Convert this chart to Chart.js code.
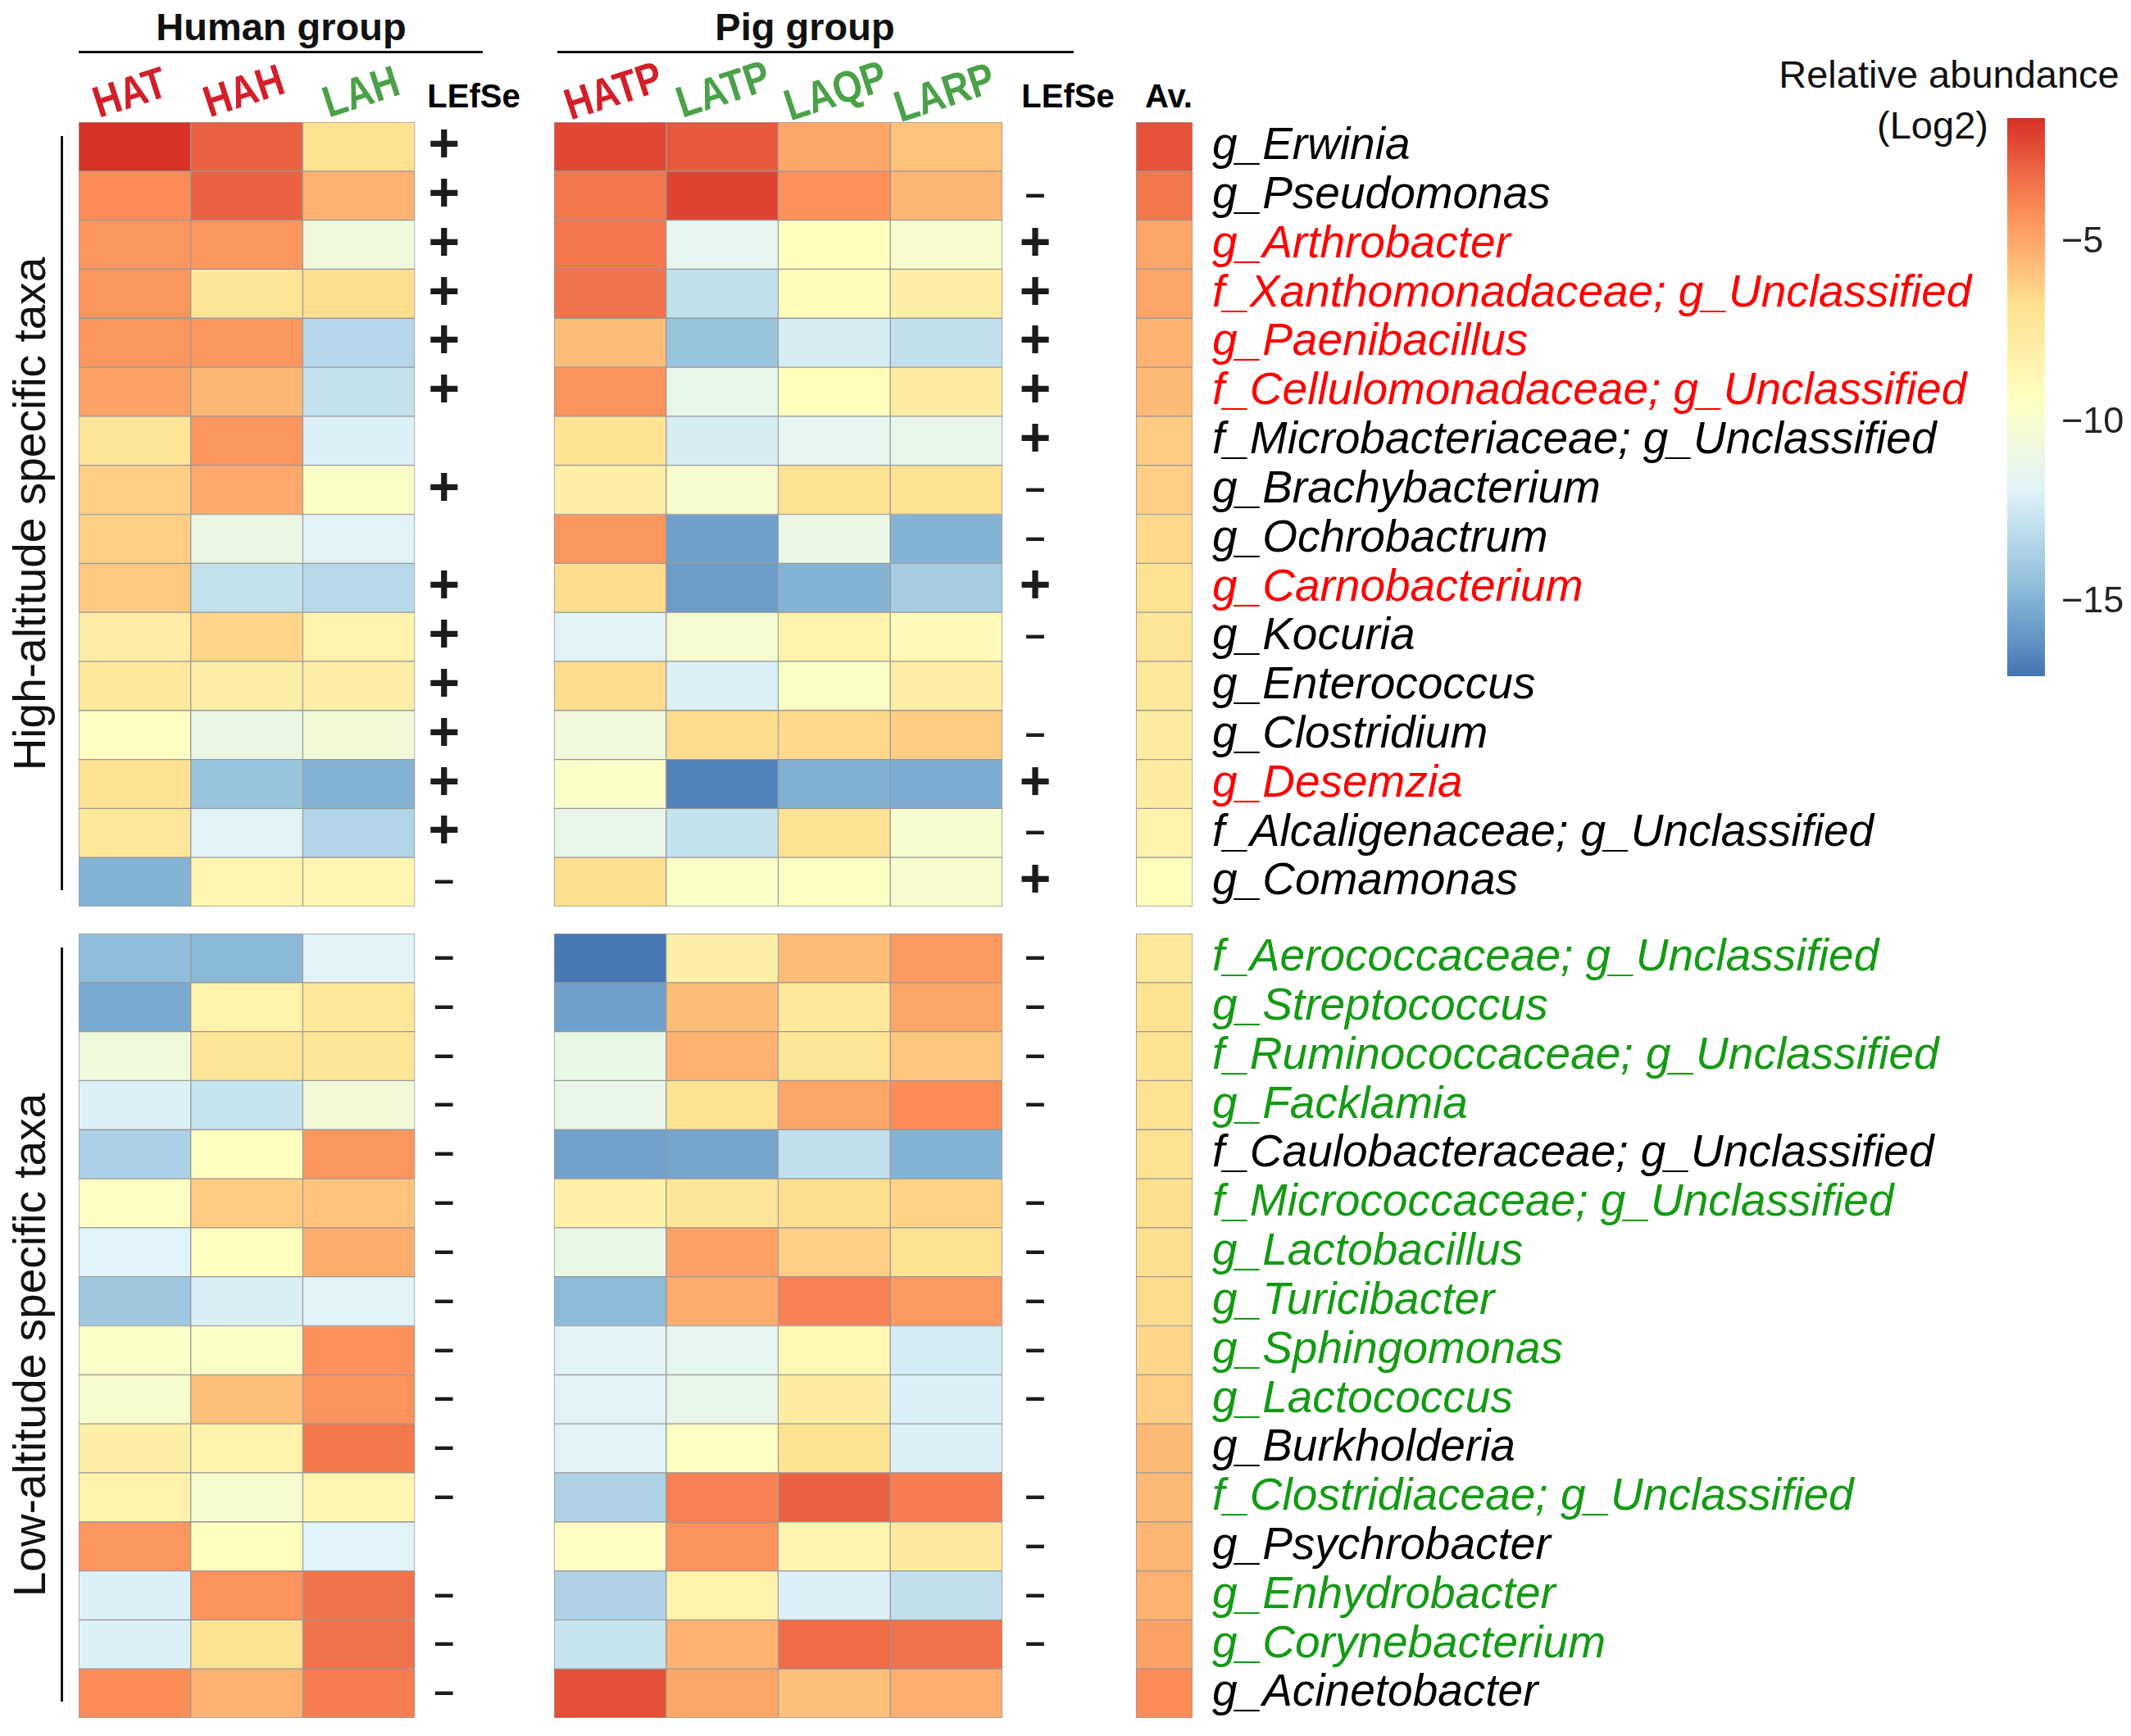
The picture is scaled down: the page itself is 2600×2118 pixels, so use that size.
<!DOCTYPE html>
<html>
<head>
<meta charset="utf-8">
<script src="https://cdn.jsdelivr.net/npm/chart.js@4.4.1/dist/chart.umd.min.js"></script>
<style>
  html, body { margin: 0; padding: 0; background: #fff; overflow: hidden; }
  #page { position: relative; width: 2600px; height: 2118px; font-family: "Liberation Sans", Arial, sans-serif; color: #111; }
  .abs { position: absolute; white-space: nowrap; line-height: 1; }
  .c { transform: translate(-50%, -50%); }
  .grp { font-size: 47px; font-weight: bold; }
  .col { font-size: 54px; font-weight: bold; transform: translate(-50%, -50%) rotate(-18deg) scaleX(0.85); }
  .hi { color: #d21f29; }
  .lo { color: #4ba149; }
  .lef { font-size: 40px; font-weight: bold; color: #000; }
  .side { font-size: 55px; transform: translate(-50%, -50%) rotate(-90deg); }
  .rule { position: absolute; background: #111; }
  canvas { position: absolute; }
</style>
</head>
<body>
<div id="page">
  <div class="abs c grp" style="left:343px;top:32px">Human group</div>
  <div class="abs c grp" style="left:982px;top:32px">Pig group</div>
  <div class="rule" style="left:96px;top:62px;width:493px;height:3px"></div>
  <div class="rule" style="left:680px;top:62px;width:630px;height:3px"></div>

  <div class="abs col hi" style="left:158px;top:112px">HAT</div>
  <div class="abs col hi" style="left:297px;top:110px">HAH</div>
  <div class="abs col lo" style="left:440px;top:111px">LAH</div>
  <div class="abs c lef" style="left:578px;top:117px">LEfSe</div>
  <div class="abs col hi" style="left:748px;top:110px">HATP</div>
  <div class="abs col lo" style="left:882px;top:108px">LATP</div>
  <div class="abs col lo" style="left:1019px;top:110px">LAQP</div>
  <div class="abs col lo" style="left:1152px;top:112px">LARP</div>
  <div class="abs c lef" style="left:1303px;top:117px">LEfSe</div>
  <div class="abs c lef" style="left:1426px;top:117px">Av.</div>

  <div class="abs side" style="left:36px;top:627px">High-altitude specific taxa</div>
  <div class="abs side" style="left:36px;top:1641px">Low-altitude specific taxa</div>
  <div class="rule" style="left:74px;top:166px;width:3px;height:920px"></div>
  <div class="rule" style="left:74px;top:1156px;width:3px;height:920px"></div>

  <div class="abs c" style="left:2378px;top:90px;font-size:47px">Relative abundance</div>
  <div class="abs c" style="left:2358px;top:152px;font-size:47px">(Log2)</div>

  <canvas id="highChart" width="2415" height="1077" style="left:90px;top:89px"></canvas>
  <canvas id="lowChart" width="2415" height="1077" style="left:90px;top:1079px"></canvas>
  <canvas id="scaleChart" width="151" height="801" style="left:2449px;top:84px"></canvas>
</div>
<script>
// taxa, top block (high altitude) and bottom block (low altitude)
const highTaxa = [
  "g_Erwinia", "g_Pseudomonas", "g_Arthrobacter", "f_Xanthomonadaceae; g_Unclassified",
  "g_Paenibacillus", "f_Cellulomonadaceae; g_Unclassified", "f_Microbacteriaceae; g_Unclassified",
  "g_Brachybacterium", "g_Ochrobactrum", "g_Carnobacterium", "g_Kocuria", "g_Enterococcus",
  "g_Clostridium", "g_Desemzia", "f_Alcaligenaceae; g_Unclassified", "g_Comamonas"
];
const lowTaxa = [
  "f_Aerococcaceae; g_Unclassified", "g_Streptococcus", "f_Ruminococcaceae; g_Unclassified",
  "g_Facklamia", "f_Caulobacteraceae; g_Unclassified", "f_Micrococcaceae; g_Unclassified",
  "g_Lactobacillus", "g_Turicibacter", "g_Sphingomonas", "g_Lactococcus", "g_Burkholderia",
  "f_Clostridiaceae; g_Unclassified", "g_Psychrobacter", "g_Enhydrobacter", "g_Corynebacterium",
  "g_Acinetobacter"
];
// label colour: k black, r enriched high, g enriched low
const highMark = ["k", "k", "r", "r", "r", "r", "k", "k", "k", "r", "k", "k", "k", "r", "k", "k"];
const lowMark = ["g", "g", "g", "g", "k", "g", "g", "g", "g", "g", "k", "g", "k", "g", "g", "k"];

// log2 relative abundance, high block
const highHAT = [-1.6, -4.1, -4.4, -4.4, -4.4, -4.8, -7.1, -6.2, -6.2, -6.0, -7.8, -7.4, -9.5, -6.8, -7.3, -14.9];
const highHAH = [-2.9, -2.9, -4.4, -7.1, -4.4, -5.4, -4.4, -5.0, -11.0, -12.8, -6.4, -8.0, -11.0, -14.2, -11.8, -8.5];
const highLAH = [-6.9, -5.3, -10.6, -6.7, -13.3, -12.8, -12.0, -9.6, -11.8, -13.2, -8.3, -8.0, -10.5, -14.9, -13.4, -8.5];
const highHATP = [-2.2, -3.5, -3.5, -3.4, -5.6, -4.3, -7.0, -8.0, -4.4, -6.6, -11.8, -6.6, -10.6, -9.7, -11.2, -6.7];
const highLATP = [-2.7, -2.1, -11.4, -12.9, -14.2, -11.2, -12.2, -10.0, -15.6, -15.7, -10.1, -12.0, -6.6, -16.6, -12.8, -9.7];
const highLAQP = [-4.9, -4.2, -9.2, -9.0, -12.2, -9.1, -11.4, -7.0, -11.0, -14.9, -8.2, -9.6, -6.5, -15.0, -6.8, -9.5];
const highLARP = [-5.8, -5.4, -9.9, -8.0, -12.9, -7.7, -11.2, -6.9, -14.9, -13.8, -8.9, -8.0, -6.1, -15.1, -10.0, -9.9];
const highAv = [-2.5, -3.5, -4.9, -4.9, -5.3, -5.5, -6.1, -6.2, -6.5, -6.8, -7.1, -7.4, -7.7, -7.7, -8.2, -9.1];

// log2 relative abundance, low block
const lowHAT = [-14.5, -15.2, -10.6, -12.0, -13.6, -9.5, -11.9, -14.0, -9.6, -10.0, -8.0, -8.2, -4.4, -12.0, -12.0, -4.1];
const lowHAH = [-14.7, -8.2, -7.1, -12.7, -9.3, -6.1, -9.3, -12.1, -9.6, -5.7, -8.2, -10.0, -9.3, -4.3, -6.9, -5.3];
const lowLAH = [-11.8, -7.3, -7.1, -10.5, -4.4, -5.8, -5.1, -11.8, -4.2, -4.3, -3.5, -8.5, -11.9, -3.4, -3.4, -3.7];
const lowHATP = [-16.9, -15.6, -11.1, -11.2, -15.5, -8.1, -11.1, -14.6, -11.8, -11.8, -11.8, -13.5, -9.5, -13.5, -12.7, -2.4];
const lowLATP = [-8.0, -5.6, -5.3, -6.8, -15.4, -7.1, -4.8, -5.1, -11.4, -11.2, -9.5, -3.8, -4.3, -8.2, -5.3, -4.9];
const lowLAQP = [-5.6, -7.4, -7.1, -4.9, -12.9, -6.7, -6.2, -3.8, -8.7, -7.7, -7.0, -2.9, -8.4, -12.0, -3.2, -5.7];
const lowLARP = [-4.5, -4.9, -5.9, -4.1, -14.9, -6.3, -6.8, -4.5, -12.3, -12.0, -12.0, -3.7, -7.5, -12.9, -3.4, -5.2];
const lowAv = [-7.4, -7.0, -7.0, -6.8, -6.8, -6.7, -6.7, -6.6, -6.4, -6.2, -5.5, -5.5, -5.4, -5.3, -4.8, -4.1];

// LEfSe marks
const highLefseHuman = ["+", "+", "+", "+", "+", "+", "", "+", "", "+", "+", "+", "+", "+", "+", "-"];
const highLefsePig = ["", "-", "+", "+", "+", "+", "+", "-", "-", "+", "-", "", "-", "+", "-", "+"];
const lowLefseHuman = ["-", "-", "-", "-", "-", "-", "-", "-", "-", "-", "-", "-", "", "-", "-", "-"];
const lowLefsePig = ["-", "-", "-", "-", "", "-", "-", "-", "-", "-", "", "-", "-", "-", "-", ""];

// colour key
const scaleMin = -17.05;
const scaleMax = -1.55;
const scaleTicks = [-5, -10, -15];
const palette = ["#4575B4", "#91BFDB", "#E0F3F8", "#FFFFBF", "#FEE090", "#FC8D59", "#D73027"];

const FONT = "'Liberation Sans', Arial, sans-serif";
const labelColors = { k: "#000000", r: "#ff0000", g: "#149a14" };

const hex = (h) => [1, 3, 5].map((i) => parseInt(h.slice(i, i + 2), 16));
const paletteRgb = palette.map(hex);
const colorFor = (v) => {
  let t = (v - scaleMin) / (scaleMax - scaleMin);
  t = Math.min(1, Math.max(0, t)) * (paletteRgb.length - 1);
  const i = Math.min(paletteRgb.length - 2, Math.floor(t));
  const f = t - i;
  const a = paletteRgb[i], b = paletteRgb[i + 1];
  const c = a.map((x, k) => Math.round(x + (b[k] - x) * f));
  return `rgb(${c[0]},${c[1]},${c[2]})`;
};

// column layout in cell units (one heatmap cell = 1)
const PIG0 = 4.243;
const AV0 = 9.437;
const XMAX = 9.941;
const colSpans = [[0, 1], [1, 2], [2, 3], [PIG0, PIG0 + 1], [PIG0 + 1, PIG0 + 2], [PIG0 + 2, PIG0 + 3], [PIG0 + 3, PIG0 + 4], [AV0, XMAX]];
const lefseHumanAt = 3.26;
const lefsePigAt = 8.537;

const lefsePlugin = (human, pig) => ({
  id: "lefse",
  afterDatasetsDraw(chart) {
    const { ctx, scales } = chart;
    ctx.save();
    ctx.fillStyle = "#1c1c1c";
    ctx.textAlign = "center";
    ctx.textBaseline = "middle";
    [[human, lefseHumanAt], [pig, lefsePigAt]].forEach(([marks, at]) => {
      marks.forEach((m, i) => {
        if (!m) return;
        const px = scales.x.getPixelForValue(at);
        const py = scales.y.getPixelForValue(i);
        if (m === "+") {
          ctx.font = `bold 66px ${FONT}`;
          ctx.fillText("+", px, py);
        } else {
          ctx.font = `bold 44px ${FONT}`;
          ctx.fillText("\u2013", px, py);
        }
      });
    });
    ctx.restore();
  },
});

const buildHeatmap = (canvas, taxa, marks, columns, human, pig) => {
  return new Chart(canvas, {
    type: "bar",
    data: {
      labels: taxa,
      datasets: columns.map((vals, idx) => ({
        data: vals.map(() => colSpans[idx]),
        backgroundColor: vals.map(colorFor),
        borderColor: "#999999",
        borderWidth: 1,
        borderSkipped: false,
        grouped: false,
        barPercentage: 1,
        categoryPercentage: 1,
      })),
    },
    options: {
      indexAxis: "y",
      responsive: false,
      animation: false,
      layout: { padding: { left: 6, top: 60, bottom: 60, right: 0 } },
      plugins: { legend: { display: false }, tooltip: { enabled: false } },
      scales: {
        x: { type: "linear", min: 0, max: XMAX, display: false },
        y: {
          type: "category",
          position: "right",
          grid: { display: false, drawTicks: false },
          border: { display: false },
          ticks: {
            padding: 24,
            autoSkip: false,
            font: { family: FONT, size: 55, style: "italic" },
            color: (ctx) => labelColors[marks[ctx.index]] || "#000",
          },
          afterFit: (axis) => {
            axis.width = 1050;
          },
        },
      },
    },
    plugins: [lefsePlugin(human, pig)],
  });
};

buildHeatmap(
  document.getElementById("highChart"),
  highTaxa,
  highMark,
  [highHAT, highHAH, highLAH, highHATP, highLATP, highLAQP, highLARP, highAv],
  highLefseHuman,
  highLefsePig
);
buildHeatmap(
  document.getElementById("lowChart"),
  lowTaxa,
  lowMark,
  [lowHAT, lowHAH, lowLAH, lowHATP, lowLATP, lowLAQP, lowLARP, lowAv],
  lowLefseHuman,
  lowLefsePig
);

// colour key bar
new Chart(document.getElementById("scaleChart"), {
  type: "bar",
  data: {
    labels: [""],
    datasets: [
      {
        data: [[scaleMin, scaleMax]],
        backgroundColor: (ctx) => {
          const area = ctx.chart.chartArea;
          if (!area) return palette[3];
          const g = ctx.chart.ctx.createLinearGradient(0, area.bottom, 0, area.top);
          palette.forEach((c, i) => g.addColorStop(i / (palette.length - 1), c));
          return g;
        },
        borderWidth: 0,
        barPercentage: 1,
        categoryPercentage: 1,
      },
    ],
  },
  options: {
    responsive: false,
    animation: false,
    layout: { padding: { top: 60, bottom: 60, left: 0, right: 0 } },
    plugins: { legend: { display: false }, tooltip: { enabled: false } },
    scales: {
      x: { display: false },
      y: {
        position: "right",
        min: scaleMin,
        max: scaleMax,
        grid: { display: false, drawTicks: false },
        border: { display: false },
        afterBuildTicks: (axis) => {
          axis.ticks = scaleTicks.map((v) => ({ value: v }));
        },
        ticks: {
          padding: 20,
          color: "#222",
          font: { family: FONT, size: 45 },
          callback: (v) => "\u2212" + Math.abs(v),
        },
        afterFit: (axis) => {
          axis.width = 105;
        },
      },
    },
  },
});
</script>
</body>
</html>
